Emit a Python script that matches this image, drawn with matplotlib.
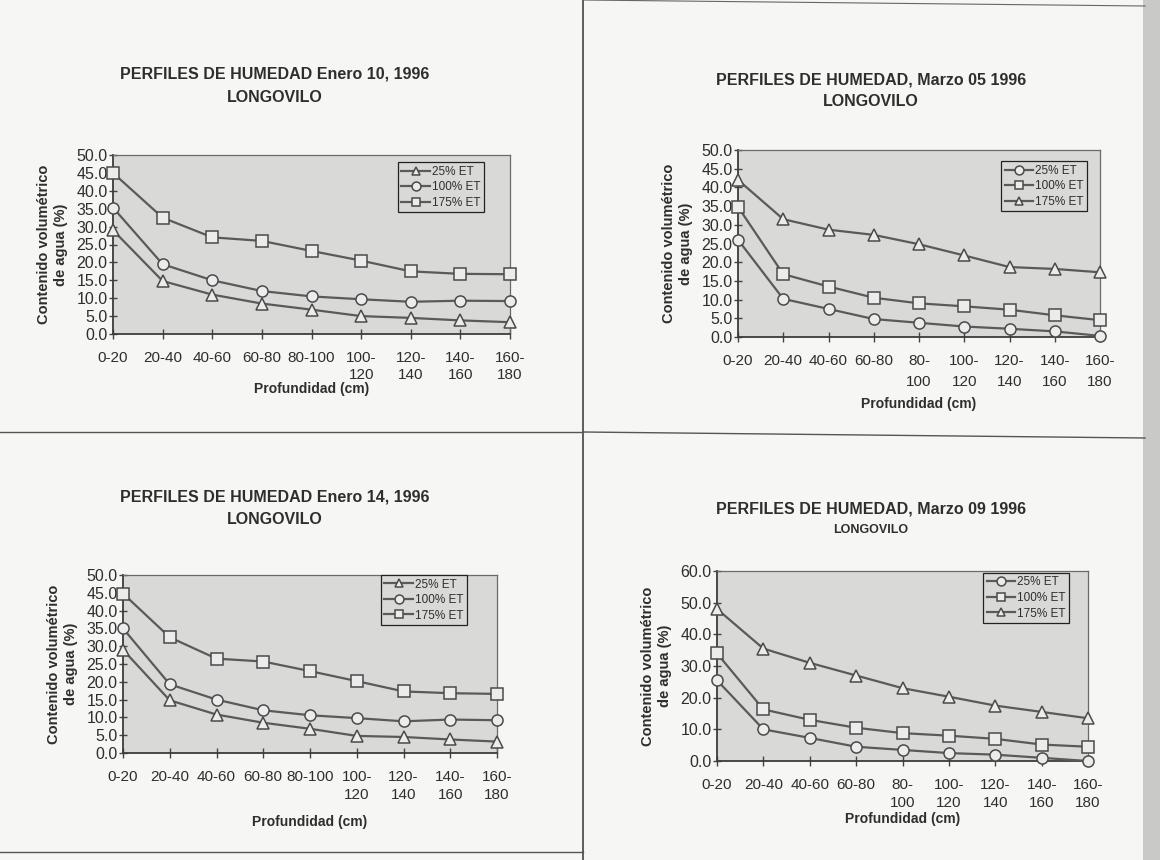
import numpy as np
import matplotlib.pyplot as plt
from matplotlib.lines import Line2D
from matplotlib.patches import Rectangle

plt.rcParams['font.family'] = ['Liberation Sans', 'DejaVu Sans']

# depth classes (two spellings of the tick labels, as in the scanned charts)
depth_a = ['0-20', '20-40', '40-60', '60-80', '80-100',
           '100-\n120', '120-\n140', '140-\n160', '160-\n180']
depth_b = ['0-20', '20-40', '40-60', '60-80', '80-\n100',
           '100-\n120', '120-\n140', '140-\n160', '160-\n180']
series_names = ['25% ET', '100% ET', '175% ET']

# Enero 10, 1996
ene10_25 = [29.0, 14.8, 11.0, 8.5, 6.8, 5.0, 4.5, 3.8, 3.3]
ene10_100 = [35.3, 19.5, 15.0, 12.0, 10.5, 9.7, 9.0, 9.3, 9.2]
ene10_175 = [45.0, 32.5, 27.0, 26.0, 23.2, 20.5, 17.5, 16.8, 16.7]

# Marzo 05, 1996
mar05_25 = [26.0, 10.2, 7.5, 4.8, 3.8, 2.8, 2.2, 1.5, 0.3]
mar05_100 = [34.8, 16.8, 13.5, 10.5, 9.0, 8.2, 7.3, 5.8, 4.5]
mar05_175 = [42.0, 31.5, 28.7, 27.3, 24.8, 21.8, 18.7, 18.2, 17.3]

# Enero 14, 1996
ene14_25 = [29.0, 14.8, 10.8, 8.5, 6.8, 4.8, 4.5, 3.8, 3.2]
ene14_100 = [35.0, 19.3, 15.0, 12.0, 10.6, 9.8, 8.9, 9.4, 9.2]
ene14_175 = [44.8, 32.5, 26.5, 25.7, 23.0, 20.2, 17.3, 16.8, 16.6]

# Marzo 09, 1996
mar09_25 = [25.5, 10.0, 7.3, 4.5, 3.5, 2.5, 2.0, 1.0, 0.0]
mar09_100 = [34.0, 16.3, 13.0, 10.5, 8.8, 8.0, 7.0, 5.2, 4.5]
mar09_175 = [48.0, 35.5, 31.0, 27.0, 23.0, 20.3, 17.5, 15.5, 13.5]

W, H = 1160, 860
paper = '#f6f6f4'
plot_bg = '#d9d9d7'
ink = '#2e2e2e'
line_col = '#5a5a5a'


def px_rect(left, right, top, bottom):
    return [left / W, 1 - bottom / H, (right - left) / W, (bottom - top) / H]


def draw_panel(fig, rect, title, sub, sub_size, title_x, title_y, labels, series, markers,
               ymax, ystep, leg_anchor, xpad, tick_ls):
    ax = fig.add_axes(rect)
    ax.set_facecolor(plot_bg)
    x = np.arange(len(labels))
    handles = []
    for vals, mk, name in zip(series, markers, series_names):
        h, = ax.plot(x, vals, color=line_col, lw=1.6, marker=mk, ms=8,
                     mfc='#ececec', mec='#4a4a4a', mew=1.1, clip_on=False, label=name, zorder=3)
        handles.append(h)
    ax.set_xlim(0, len(labels) - 1)
    ax.set_ylim(0, ymax)
    ax.set_xticks(x)
    ax.set_xticklabels(labels, fontsize=11, color=ink, linespacing=tick_ls, va='top')
    yt = np.arange(0, ymax + 0.01, ystep)
    ax.set_yticks(yt)
    ax.set_yticklabels([f'{v:.1f}' for v in yt], fontsize=11.5, color=ink)
    ax.tick_params(axis='x', direction='inout', length=7, width=1, colors='#444', pad=9, labelcolor=ink)
    ax.tick_params(axis='y', direction='inout', length=6, width=1, colors='#444', pad=1, labelcolor=ink)
    for s in ['left', 'bottom']:
        ax.spines[s].set_color('#3c3c3c')
        ax.spines[s].set_linewidth(1.3)
    for s in ['top', 'right']:
        ax.spines[s].set_color('#6a6a6a')
        ax.spines[s].set_linewidth(0.9)
    ax.set_ylabel('Contenido volumétrico\nde agua (%)', fontsize=10.5, fontweight='bold',
                  color=ink, labelpad=6, linespacing=1.3)
    ax.set_xlabel('Profundidad (cm)', fontsize=10, fontweight='bold', color=ink, labelpad=xpad)
    leg = ax.legend(handles=handles, loc='upper right', bbox_to_anchor=leg_anchor, fontsize=8.5,
                    frameon=True, fancybox=False, edgecolor='#222', facecolor=plot_bg,
                    framealpha=1, handlelength=2.4, borderpad=0.3, labelspacing=0.3,
                    handletextpad=0.2, borderaxespad=0, markerscale=0.8)
    leg.get_frame().set_linewidth(0.9)
    for t in leg.get_texts():
        t.set_color(ink)
    fig.text(title_x / W, 1 - title_y[0] / H, title, ha='center', va='center',
             fontsize=11.5, fontweight='bold', color=ink)
    fig.text(title_x / W, 1 - title_y[1] / H, sub, ha='center', va='center',
             fontsize=sub_size, fontweight='bold', color=ink)
    return ax


fig = plt.figure(figsize=(W / 100, H / 100), dpi=100, facecolor=paper)

draw_panel(fig, px_rect(113, 510, 155, 334), 'PERFILES DE HUMEDAD Enero 10, 1996', 'LONGOVILO',
           11.5, 275, (74, 97), depth_a, [ene10_25, ene10_100, ene10_175], ['^', 'o', 's'],
           50, 5, (0.935, 0.96), 0.5, 1.2)
draw_panel(fig, px_rect(738, 1100, 150, 337), 'PERFILES DE HUMEDAD, Marzo 05 1996', 'LONGOVILO',
           11.5, 871, (80, 102), depth_b, [mar05_25, mar05_100, mar05_175], ['o', 's', '^'],
           50, 5, (0.965, 0.94), 6, 1.6)
draw_panel(fig, px_rect(123, 497, 575, 753), 'PERFILES DE HUMEDAD Enero 14, 1996', 'LONGOVILO',
           11.5, 275, (497, 520), depth_a, [ene14_25, ene14_100, ene14_175], ['^', 'o', 's'],
           50, 5, (0.92, 1.0), 9, 1.35)
draw_panel(fig, px_rect(717, 1088, 571, 761), 'PERFILES DE HUMEDAD, Marzo 09 1996', 'LONGOVILO',
           9, 871, (509, 530), depth_b, [mar09_25, mar09_100, mar09_175], ['o', 's', '^'],
           60, 10, (0.95, 0.99), 1, 1.35)

# page frame lines of the scanned sheet
fig.add_artist(Line2D([583 / W, 583 / W], [1 - 0 / H, 1 - 860 / H], color='#444', lw=1.2))
fig.add_artist(Line2D([0, 583 / W], [1 - 432 / H, 1 - 432 / H], color='#555', lw=1.0))
fig.add_artist(Line2D([583 / W, 1145 / W], [1 - 432 / H, 1 - 438 / H], color='#555', lw=1.0))
fig.add_artist(Line2D([0, 583 / W], [1 - 852 / H, 1 - 852 / H], color='#555', lw=1.0))
fig.add_artist(Line2D([583 / W, 1145 / W], [1 - 0 / H, 1 - 6 / H], color='#666', lw=0.8))
# page edge at the right
fig.add_artist(Rectangle((1143 / W, 0), 17 / W, 1, transform=fig.transFigure,
                         facecolor='#c9c9c7', edgecolor='none'))

fig.savefig('out.png', dpi=100, facecolor=paper)
